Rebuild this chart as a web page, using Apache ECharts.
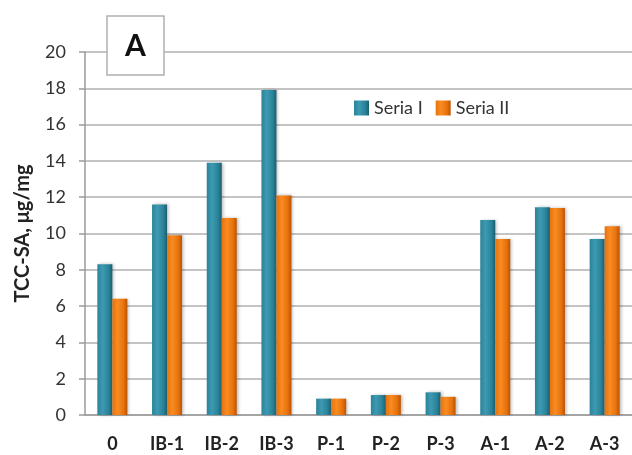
<!DOCTYPE html>
<html>
<head>
<meta charset="utf-8">
<script src="https://cdn.jsdelivr.net/npm/echarts@6/dist/echarts.min.js"></script>
<style>
  html, body { margin: 0; padding: 0; background: #fff; }
  #chart { width: 632px; height: 455px; }
</style>
</head>
<body>
<div id="chart"></div>
<script>
// Samples and measured TCC-SA for the two series
const categories = ['0', 'IB-1', 'IB-2', 'IB-3', 'P-1', 'P-2', 'P-3', 'A-1', 'A-2', 'A-3'];
const seriaI  = [8.3, 11.6, 13.9, 17.9, 0.9, 1.1, 1.25, 10.75, 11.45, 9.7];
const seriaII = [6.4,  9.9, 10.85, 12.1, 0.9, 1.1, 1.0,  9.7, 11.4, 10.4];
const yTicks = { min: 0, max: 20, interval: 2 };

const FONT = 'Lato, "Open Sans", sans-serif';

// horizontal gradient gives the bars a rounded, cylinder-like look
function cylinder(dark, mid, light) {
  return new echarts.graphic.LinearGradient(0, 0, 1, 0, [
    { offset: 0, color: mid },
    { offset: 0.35, color: light },
    { offset: 0.75, color: mid },
    { offset: 1, color: dark }
  ]);
}

const chart = echarts.init(document.getElementById('chart'), null, { renderer: 'canvas' });
chart.setOption({
  animation: false,
  backgroundColor: '#ffffff',
  grid: { left: 85, right: -3, top: 52, bottom: 40, containLabel: false },
  legend: {
    left: 349, top: 94,
    itemWidth: 15, itemHeight: 15, itemGap: 13,
    icon: 'rect',
    textStyle: { fontFamily: FONT, fontSize: 18, color: '#333' },
    data: ['Seria I', 'Seria II']
  },
  graphic: [
    {
      type: 'rect', z: 100,
      shape: { x: 107, y: 16, width: 57, height: 59 },
      style: { fill: '#fff', stroke: '#b0b0b0', lineWidth: 1.5 }
    },
    {
      type: 'text', z: 101,
      style: { x: 135.5, y: 46, text: 'A', font: 'bold 30px ' + FONT,
               fill: '#111', align: 'center', verticalAlign: 'middle' }
    }
  ],
  xAxis: {
    type: 'category',
    data: categories,
    axisLine: { lineStyle: { color: '#9a9a9a', width: 1.5 } },
    axisTick: { show: false },
    axisLabel: { fontFamily: FONT, fontWeight: 'bold', fontSize: 18, color: '#222', margin: 20 }
  },
  yAxis: {
    type: 'value',
    min: yTicks.min, max: yTicks.max, interval: yTicks.interval,
    name: 'TCC-SA, μg/mg',
    nameLocation: 'middle',
    nameGap: 52,
    nameTextStyle: { fontFamily: FONT, fontWeight: 'bold', fontSize: 20, color: '#222' },
    axisLine: { show: true, lineStyle: { color: '#9a9a9a', width: 1.5 } },
    axisTick: { show: true, length: 6, lineStyle: { color: '#9a9a9a', width: 1.5 } },
    axisLabel: { fontFamily: FONT, fontSize: 18, color: '#333', margin: 19 },
    splitLine: { lineStyle: { color: '#c4c4c4', width: 2 } }
  },
  series: [
    {
      name: 'Seria I', type: 'bar', data: seriaI,
      barWidth: 15, barGap: '0%',
      itemStyle: {
        color: cylinder('#1c5d70', '#2a8399', '#3d9ab2'),
        shadowColor: 'rgba(0,0,0,0.25)', shadowBlur: 3, shadowOffsetX: 2
      }
    },
    {
      name: 'Seria II', type: 'bar', data: seriaII,
      barWidth: 15,
      itemStyle: {
        color: cylinder('#b85404', '#e8720c', '#f88c22'),
        shadowColor: 'rgba(0,0,0,0.25)', shadowBlur: 3, shadowOffsetX: 2
      }
    }
  ]
});
</script>
</body>
</html>
